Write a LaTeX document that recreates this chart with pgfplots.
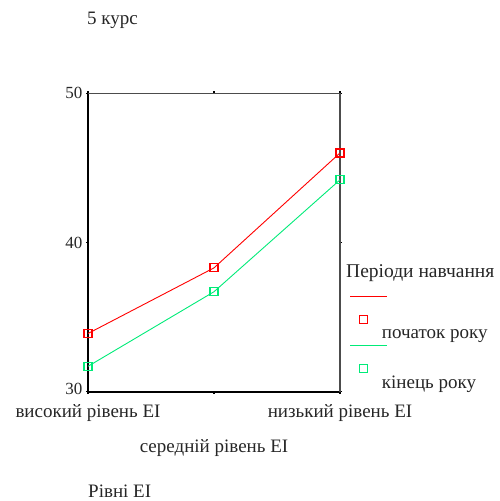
\documentclass[border=0pt]{standalone}
\usepackage{pgfplots}
\pgfplotsset{compat=1.18}
\usepackage{fontspec}
\setmainfont{Liberation Serif}
\definecolor{spssred}{RGB}{255,0,0}
\definecolor{spssgreen}{RGB}{0,235,120}
\begin{document}
\begin{tikzpicture}[x=1pt,y=1pt]
\useasboundingbox (0,0) rectangle (500,501);
\begin{axis}[
  at={(88pt,109.3pt)}, anchor=south west,
  scale only axis, width=252pt, height=298.4pt,
  xmin=0, xmax=2, ymin=30, ymax=50,
  xtick={0,2}, xticklabels={високий рівень ЕІ, низький рівень ЕІ},
  xticklabel style={yshift=-7pt},
  extra x ticks={1}, extra x tick labels={середній рівень ЕІ},
  extra x tick style={tick label style={yshift=-35pt}, grid=none},
  ytick={30,40,50}, yticklabels={\raisebox{5pt}{30},40,50},
  tick align=outside, major tick length=2pt,
  tick style={black, line width=1.5pt},
  /pgf/number format/assume math mode=true,
  tick label style={font=\fontsize{17}{20}\selectfont, text=black!85},
  xticklabel style={font=\fontsize{19}{22}\selectfont},
  axis line style={draw=none},
  clip=false,
  legend style={at={(1.0397,0.3207)}, anchor=north west, draw=none, fill=none,
    inner sep=0pt, outer sep=0pt, cells={anchor=west},
    font=\fontsize{19}{22}\selectfont, text=black!85, column sep=-8pt, row sep=3pt},
  legend image code/.code={
    \draw[#1,mark=none] (0pt,38pt) -- (37pt,38pt);
    \draw[#1] plot coordinates {(13pt,15pt)};
  },
]
\draw[black, line width=1.6pt] (rel axis cs:0,1) -- (rel axis cs:0,0) -- (rel axis cs:1,0);
\draw[black!70, line width=1.2pt] (rel axis cs:0,1) -- (rel axis cs:1,1) -- (rel axis cs:1,0);
\addplot[spssred, line width=0.9pt, mark=square, mark size=4pt, mark options={solid, spssred, line width=1.1pt}]
  coordinates {(0,33.9) (1,38.3) (2,46.0)};
\addlegendentry{початок року}
\addplot[spssgreen, line width=0.9pt, mark=square, mark size=4pt, mark options={solid, spssgreen, line width=1.1pt}]
  coordinates {(0,31.7) (1,36.7) (2,44.2)};
\addlegendentry{кінець року}
\end{axis}
\node[anchor=west, inner sep=0pt, font=\fontsize{19}{22}\selectfont, text=black!85] at (87,481) {5 курс};
\node[anchor=base west, inner sep=0pt, font=\fontsize{19}{22}\selectfont, text=black!85] at (88,3) {Рівні ЕІ};
\node[anchor=west, inner sep=0pt, font=\fontsize{19.5}{22}\selectfont, text=black!85] at (346,228) {Періоди навчання};
\end{tikzpicture}
\end{document}
